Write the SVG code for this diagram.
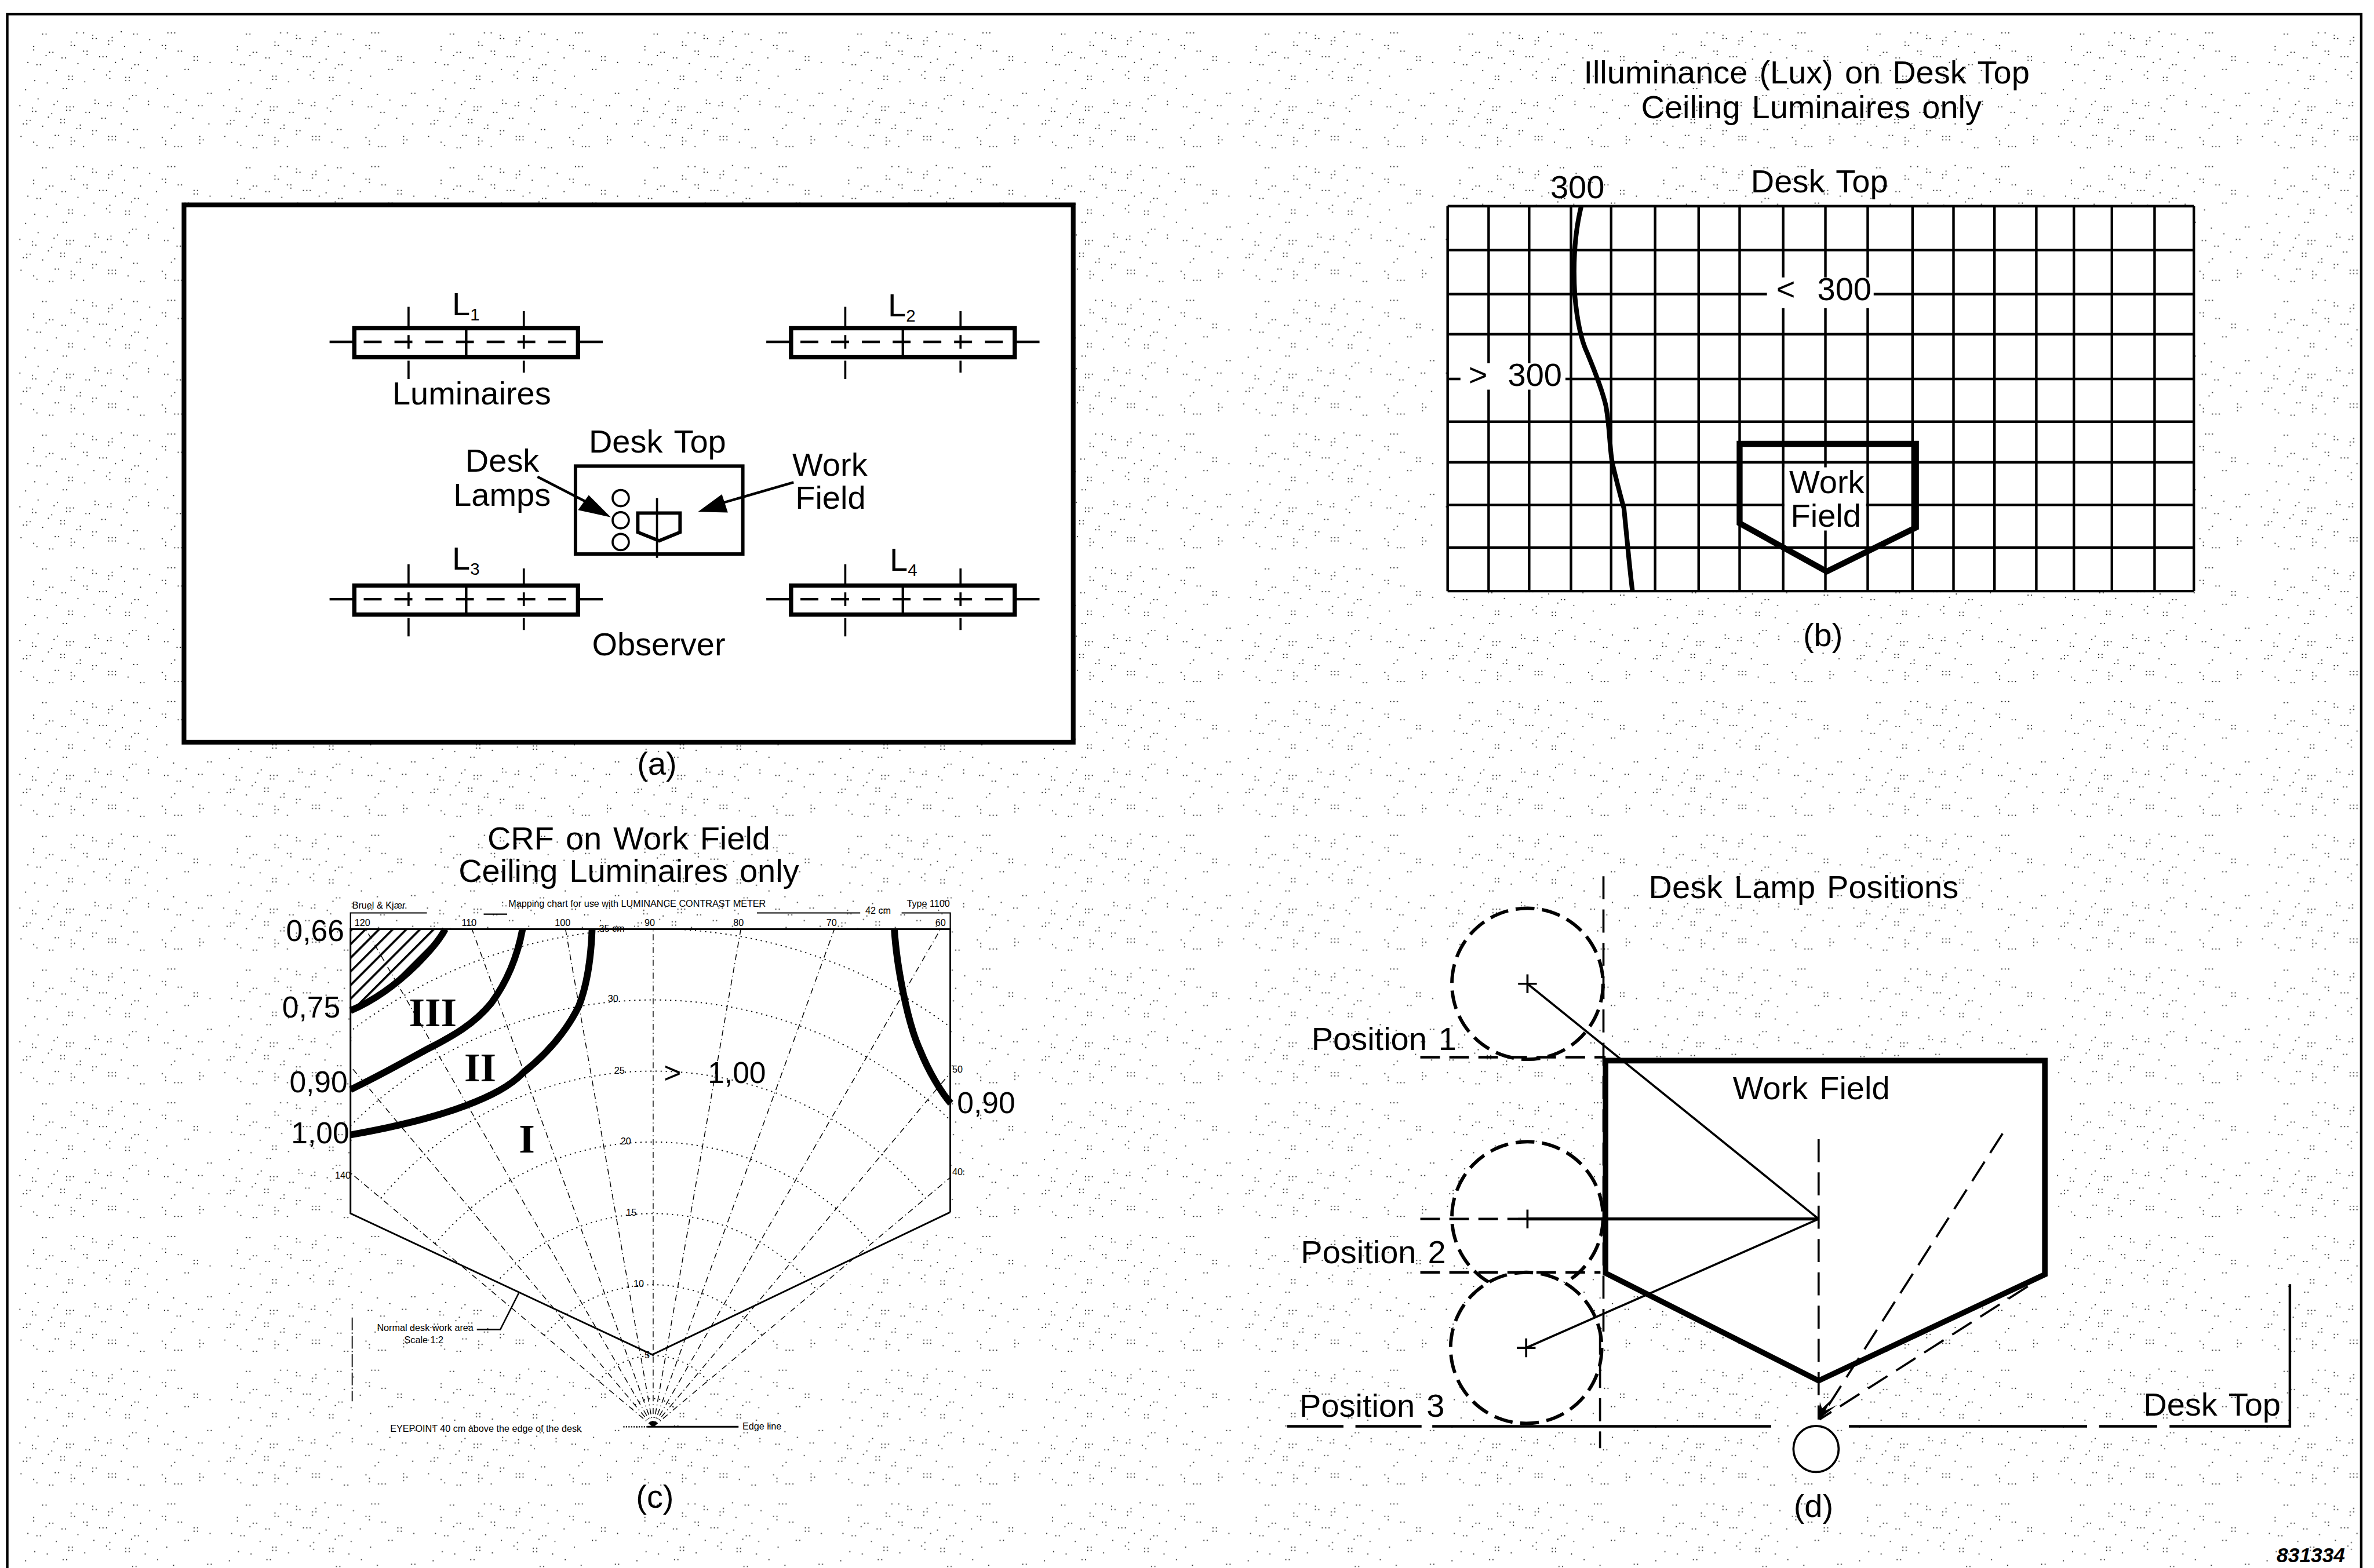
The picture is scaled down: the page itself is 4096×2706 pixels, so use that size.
<svg xmlns="http://www.w3.org/2000/svg" width="4096" height="2706" viewBox="0 0 4096 2706">
<style>
.t{font-family:"Liberation Sans",Arial,sans-serif;font-size:76px;word-spacing:6px;fill:#000}
.m{text-anchor:middle}
.v{font-size:70px}
.s{font-size:22px;word-spacing:0}
.r{font-family:"Liberation Serif","Times New Roman",serif;font-weight:bold;font-size:96px;text-anchor:middle;fill:#000}
.l{fill:none;stroke:#000;stroke-width:5}
.w{fill:none;stroke:#000;stroke-width:6}
.h{fill:none;stroke:#000;stroke-width:16}
.d{fill:none;stroke:#000;stroke-width:5;stroke-dasharray:54 24}
.c{fill:#fff;stroke:#000;stroke-width:8;stroke-dasharray:44 18}
.rad{fill:none;stroke:#000;stroke-width:2;stroke-dasharray:14 7 2 7}
.arc{fill:none;stroke:#000;stroke-width:2.5;stroke-dasharray:3 9}
</style>
<defs>
<pattern id="dots" patternUnits="userSpaceOnUse" x="66" y="110" width="1432" height="940" patternTransform="scale(0.33333)">
<path fill="none" stroke="#000" stroke-width="8" stroke-linecap="round" d="M234 129h0M258 129h0M474 121h0M522 121h0M586 137h0M586 161h0M610 161h0M722 153h0M698 177h0M722 177h0M698 201h0M786 113h0M874 129h0M898 129h0M986 169h0M1114 121h0M1138 121h0M1162 121h0M1074 209h0M1098 209h0M1098 233h0M1186 249h0M1210 249h0M1450 217h0M1474 241h0M1490 153h0M170 217h0M170 241h0M282 257h0M306 257h0M258 281h0M434 185h0M434 209h0M458 209h0M522 249h0M546 249h0M546 273h0M810 217h0M922 257h0M794 305h0M1034 297h0M1298 289h0M1322 289h0M1298 313h0M1322 313h0M1410 329h0M130 329h0M194 345h0M218 345h0M370 297h0M394 297h0M482 337h0M634 289h0M658 289h0M682 289h0M746 329h0M882 345h0M906 345h0M858 369h0M970 385h0M1234 377h0M1258 377h0M594 377h0M706 393h0M682 417h0M706 441h0M330 385h0M418 425h0M442 425h0M418 449h0M442 449h0M178 457h0M266 473h0M530 465h0M818 433h0M842 433h0M818 457h0M842 457h0M954 473h0M1106 425h0M1482 457h0M114 521h0M378 513h0M402 513h0M1042 513h0M1154 553h0M1394 545h0M1418 545h0M866 561h0M890 561h0M842 585h0M202 585h0M338 601h0M314 625h0M602 593h0M602 617h0M626 617h0M714 609h0M690 633h0M714 633h0M978 601h0M978 625h0M1242 593h0M1482 585h0M1330 633h0M1354 633h0M74 633h0M162 649h0M162 673h0M186 673h0M402 641h0M426 641h0M450 641h0M402 665h0M426 665h0M802 649h0M826 673h0M1090 641h0M1114 641h0M1178 681h0M1202 681h0M1442 673h0M538 681h0M562 681h0M298 689h0M274 713h0M650 721h0M674 721h0M1290 721h0M122 737h0M146 737h0M98 761h0M122 761h0M362 729h0M386 729h0M362 753h0M386 753h0M786 761h0M1402 761h0M234 777h0M498 769h0M474 793h0M498 793h0M1162 769h0M1138 793h0M586 809h0M610 809h0M586 833h0M874 801h0M898 801h0M82 849h0M322 841h0M346 841h0M434 857h0M434 881h0M458 881h0M434 905h0M698 849h0M722 849h0M746 849h0M698 873h0M722 873h0M746 873h0M1074 857h0M1098 881h0M1098 905h0M1338 849h0M1338 873h0M1362 873h0M1338 897h0M1490 825h0M170 889h0M194 913h0M834 889h0M1450 889h0M1474 913h0M522 921h0M282 929h0M306 929h0M922 929h0M946 929h0M1162 921h0M1186 921h0M1210 921h0M1210 945h0M130 977h0M154 977h0M130 1001h0M370 969h0M370 993h0M634 961h0M682 961h0M1034 969h0M1058 969h0M1298 961h0M1322 961h0M794 1001h0M1410 1001h0M1410 1025h0M482 1009h0M218 1017h0M242 1017h0M218 1041h0M618 1025h0M1122 1009h0M1146 1009h0M1170 1009h0M1146 1033h0M1170 1033h0"/>
</pattern>
<pattern id="hatch" patternUnits="userSpaceOnUse" width="22.6" height="22.6" patternTransform="translate(821 2177) rotate(45)">
<rect x="0" y="0" width="5" height="22.6" fill="#000"/>
</pattern>
<clipPath id="chartClip"><rect x="821" y="2177" width="1405" height="1166"/></clipPath>
<g id="lum">
<rect x="-262" y="-32" width="524" height="68" fill="#fff" stroke="#000" stroke-width="10"/>
<path d="M0 -32V36" class="w" stroke-width="8"/>
<path d="M-320 0H-262M262 0H320" class="w"/>
<path d="M-240 0H262" class="w" stroke-dasharray="42 30"/>
<path d="M-135 -82V-32M135 -72V-32M-135 -16V16M135 -16V16M-135 44V87M135 44V72" class="l"/>
</g>
</defs>
<g transform="scale(0.73656)">
<rect width="5561" height="3674" fill="#fff"/>
<rect x="20" y="36" width="5511" height="3638" fill="url(#dots)"/>
<path id="frame" d="M17 3674V33H5531V3674" class="w"/>

<g id="panel-a">
<rect x="431" y="480" width="2083" height="1259" fill="#fff" stroke="#000" stroke-width="11"/>
<use href="#lum" x="1092" y="801"/>
<use href="#lum" x="2115" y="801"/>
<use href="#lum" x="1092" y="1404"/>
<use href="#lum" x="2115" y="1404"/>
<text class="t" x="1059" y="739">L<tspan font-size="40" dy="12">1</tspan></text>
<text class="t" x="2080" y="741">L<tspan font-size="40" dy="12">2</tspan></text>
<text class="t" x="1059" y="1335">L<tspan font-size="40" dy="12">3</tspan></text>
<text class="t" x="2084" y="1337">L<tspan font-size="40" dy="12">4</tspan></text>
<text class="t" x="919" y="947">Luminaires</text>
<rect x="1348" y="1092" width="392" height="206" fill="#fff" stroke="#000" stroke-width="8"/>
<circle cx="1454" cy="1167" r="19" class="l"/>
<circle cx="1454" cy="1219" r="19" class="l"/>
<circle cx="1454" cy="1270" r="19" class="l"/>
<path d="M1494 1202H1593V1247L1544 1267L1494 1247Z" fill="none" stroke="#000" stroke-width="8"/>
<path d="M1539 1167V1307" class="l"/>
<path d="M1259 1117L1385 1182M1859 1130L1680 1182" class="w"/>
<polygon points="1431,1212 1379,1160 1354,1195"/>
<polygon points="1635,1199 1691,1158 1705,1201"/>
<text class="t m" x="1540" y="1060">Desk Top</text>
<text class="t" x="1090" y="1105">Desk</text>
<text class="t" x="1062" y="1185">Lamps</text>
<text class="t" x="1856" y="1115">Work</text>
<text class="t" x="1863" y="1192">Field</text>
<text class="t m" x="1543" y="1535">Observer</text>
<text class="t m" x="1539" y="1815">(a)</text>
</g>

<g id="panel-b">
<text class="t m" x="4232" y="196">Illuminance (Lux) on Desk Top</text>
<text class="t m" x="4243" y="277">Ceiling Luminaires only</text>
<text class="t m" x="3695" y="464">300</text>
<text class="t m" x="4262" y="451">Desk Top</text>
<rect x="3391" y="483" width="1748" height="902" fill="#fff"/>
<path class="w" d="M3391 483V1385M3487 483V1385M3582 483V1385M3680 483V1385M3774 483V1385M3877 483V1385M3979 483V1385M4075 483V1385M4177 483V1385M4276 483V1385M4375 483V1385M4480 483V1385M4576 483V1385M4672 483V1385M4770 483V1385M4858 483V1385M4947 483V1385M5047 483V1385M5139 483V1385M3391 483H5139M3391 586H5139M3391 689H5139M3391 783H5139M3391 888H5139M3391 988H5139M3391 1083H5139M3391 1183H5139M3391 1283H5139M3391 1385H5139"/>
<rect x="4139" y="650" width="250" height="72" fill="#fff"/>
<rect x="3421" y="851" width="246" height="62" fill="#fff"/>
<rect x="4180" y="1095" width="191" height="148" fill="#fff"/>
<path d="M3704 483C3690 540 3684 610 3689 693C3695 760 3705 800 3718 827C3740 880 3755 920 3762 952C3772 1010 3770 1050 3777 1086C3790 1140 3798 1170 3804 1191C3812 1270 3818 1340 3824 1385" fill="none" stroke="#000" stroke-width="11"/>
<path d="M4075 1040H4488V1236L4279 1339L4075 1226Z" fill="none" stroke="#000" stroke-width="14"/>
<text class="t" x="4161" y="703">&lt;</text>
<text class="t" x="4257" y="703">300</text>
<text class="t" x="3440" y="904">&gt;</text>
<text class="t" x="3532" y="904">300</text>
<text class="t m" x="4279" y="1155">Work</text>
<text class="t m" x="4277" y="1234">Field</text>
<text class="t m" x="4270" y="1514">(b)</text>
</g>

<g id="panel-c">
<text class="t m" x="1473" y="1991">CRF on Work Field</text>
<text class="t m" x="1473" y="2067">Ceiling Luminaires only</text>
<path d="M824 2843V2177H2226V2840L1528 3174Z" fill="#fff" stroke="none"/>
<path d="M824 2843L1530 3343L2226 2840Z" fill="#fff" stroke="none"/>
<path d="M821 2177V2139H1000M1133 2142H1188M1773 2139H2015M2112 2139H2226V2177" fill="none" stroke="#000" stroke-width="3"/>
<polygon points="821,2177 1043,2177 1017,2218 976,2260 923,2310 869,2347 821,2368" fill="url(#hatch)"/>
<g clip-path="url(#chartClip)">
<path class="rad" d="M1530 3343L1877 1373M1530 3343L1183 1373M1530 3343L2214 1464M1530 3343L846 1464M1530 3343L2530 1611M1530 3343L530 1611M1530 3343L2816 1811M1530 3343L244 1811M1530 3343L3062 2057M1530 3343L-2 2057M1530 3343V2177"/>
<path class="arc" d="M1479 3301A66 66 0 0 1 1581 3301M1402 3236A167 167 0 0 1 1658 3236M1275 3129A333 333 0 0 1 1785 3129M1147 3022A500 500 0 0 1 1913 3022M1019 2914A667 667 0 0 1 2041 2914M892 2807A833 833 0 0 1 2168 2807M764 2700A1000 1000 0 0 1 2296 2700M636 2593A1167 1167 0 0 1 2424 2593"/>
</g>
<path d="M2226 2840V2177H821V2843L1528 3174L2226 2840" fill="none" stroke="#000" stroke-width="4"/>
<path d="M825 3087V3283" fill="none" stroke="#000" stroke-width="2.5" stroke-dasharray="30 5 3 5"/>
<path class="h" d="M821 2368C870 2347 920 2315 976 2260C1005 2230 1028 2205 1043 2177"/>
<path class="h" d="M821 2553C900 2515 960 2480 1003 2457C1060 2428 1110 2400 1151 2350C1195 2290 1215 2225 1224 2177"/>
<path class="h" d="M821 2659C900 2645 1000 2625 1092 2590C1150 2568 1195 2545 1226 2513C1280 2470 1325 2420 1356 2357C1378 2300 1385 2230 1387 2177"/>
<path class="h" d="M2095 2177C2100 2260 2125 2395 2155 2460C2175 2510 2205 2560 2227 2585"/>
<path d="M1117 3115H1172L1215 3030" fill="none" stroke="#000" stroke-width="3.5"/>
<path d="M1516 3343H1730" fill="none" stroke="#000" stroke-width="4"/>
<path d="M1460 3343H1516" fill="none" stroke="#000" stroke-width="3" stroke-dasharray="3 3"/>
<text class="t s" x="825" y="2129">Bruel &amp; Kjær</text>
<text class="t s" x="1191" y="2125">Mapping chart for use with LUMINANCE CONTRAST METER</text>
<text class="t s" x="2027" y="2141">42 cm</text>
<text class="t s" x="2124" y="2125">Type 1100</text>
<text class="t s m" x="849" y="2169">120</text>
<text class="t s m" x="1099" y="2169">110</text>
<text class="t s m" x="1318" y="2169">100</text>
<text class="t s m" x="1522" y="2169">90</text>
<text class="t s m" x="1730" y="2169">80</text>
<text class="t s m" x="1948" y="2169">70</text>
<text class="t s m" x="2203" y="2169">60</text>
<text class="t s m" x="1433" y="2183">35 cm</text>
<text class="t s m" x="1436" y="2348">30</text>
<text class="t s m" x="1451" y="2516">25</text>
<text class="t s m" x="1466" y="2682">20</text>
<text class="t s m" x="1479" y="2848">15</text>
<text class="t s m" x="1496" y="3016">10</text>
<text class="t s m" x="1516" y="3182">5</text>
<text class="t s m" x="803" y="2761">140</text>
<text class="t s m" x="2243" y="2513">50</text>
<text class="t s m" x="2243" y="2753">40</text>
<text class="t s" x="883" y="3118">Normal desk work area</text>
<text class="t s" x="947" y="3147">Scale 1:2</text>
<text class="t s" x="914" y="3355">EYEPOINT 40 cm above the edge of the desk</text>
<text class="t s" x="1739" y="3350">Edge line</text>
<text class="r" x="1014" y="2405">III</text>
<text class="r" x="1125" y="2534">II</text>
<text class="r" x="1234" y="2700">I</text>
<text class="t v" x="670" y="2205">0,66</text>
<text class="t v" x="661" y="2384">0,75</text>
<text class="t v" x="678" y="2559">0,90</text>
<text class="t v" x="682" y="2678">1,00</text>
<text class="t v" x="2242" y="2608">0,90</text>
<text class="t v" x="1555" y="2537">&gt;</text>
<text class="t v" x="1658" y="2537">1,00</text>
<text class="t m" x="1534" y="3532">(c)</text>
</g>

<g id="panel-d">
<circle cx="3578" cy="2305" r="177" class="c"/>
<circle cx="3578" cy="2852" r="177" class="c"/>
<circle cx="3575" cy="3158" r="177" class="c"/>
<path d="M3761 2485H4790V2986L4260 3235L3761 2983Z" fill="#fff"/>
<path class="d" d="M3756 2053V3120M3748 3120V3393M4260 2669V3326M4691 2656L4262 3326M4750 3014L4262 3326"/>
<path d="M3327 2477H3761M3327 2981H3749M3327 2856H3578" class="w" stroke-dasharray="46 22"/>
<path d="M3015 3342H3147M3175 3342H3330M3355 3342H4149M4331 3342H4889M4917 3342H5053M5082 3342H5364V3009" fill="none" stroke="#000" stroke-width="6"/>
<path d="M3761 2485H4790V2986L4260 3235L3761 2983Z" fill="none" stroke="#000" stroke-width="13"/>
<path d="M3578 2305L4260 2856M3575 3158L4260 2856" class="l"/>
<path d="M3578 2856H4260" fill="none" stroke="#000" stroke-width="7"/>
<path d="M3556 2305H3600M3578 2283V2327M3556 2856H3600M3578 2834V2878M3553 3158H3597M3575 3136V3180" class="l"/>
<polygon points="4260,3326 4263,3285 4268,3300 4289,3280 4276,3305 4303,3292"/>
<ellipse cx="4254" cy="3395" rx="53" ry="54" fill="#fff" stroke="#000" stroke-width="5"/>
<text class="t" x="3862" y="2104">Desk Lamp Positions</text>
<text class="t" x="3072" y="2460">Position 1</text>
<text class="t" x="4059" y="2575">Work Field</text>
<text class="t" x="3047" y="2960">Position 2</text>
<text class="t" x="3044" y="3320">Position 3</text>
<text class="t" x="5021" y="3317">Desk Top</text>
<text class="t m" x="4248" y="3554">(d)</text>
</g>
<text id="ref" x="5333" y="3660" font-family="'Liberation Sans',Arial,sans-serif" font-style="italic" font-weight="bold" font-size="48" fill="#000">831334</text>
</g>
</svg>
